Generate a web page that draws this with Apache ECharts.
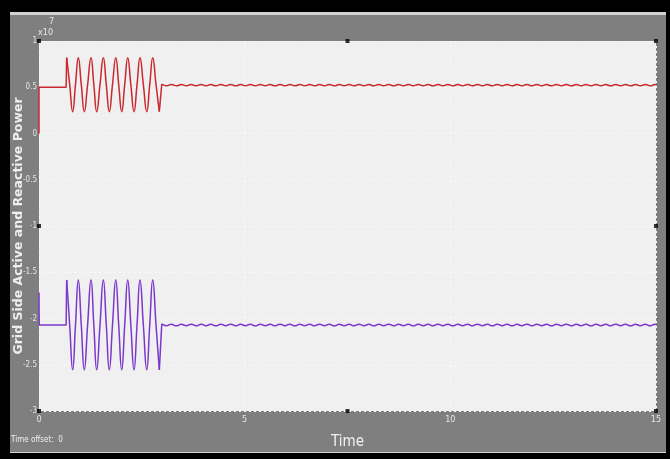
<!DOCTYPE html>
<html>
<head>
<meta charset="utf-8">
<script src="https://cdn.jsdelivr.net/npm/echarts@6/dist/echarts.min.js"></script>
<style>
html,body{margin:0;padding:0;background:#000;}
#c{width:670px;height:459px;}
</style>
</head>
<body>
<div id="c"></div>
<script>
// ---- data (values in units of 1e7) ----
const yTicks = [1, 0.5, 0, -0.5, -1, -1.5, -2, -2.5, -3];
const xTicks = [0, 5, 10, 15];

const redStep = [[0, 0], [0, 0.5], [0.66, 0.5], [0.673, 0.82]];
const redOsc = [[0.673,0.82],[0.746,0.528],[0.819,0.236],[0.887,0.528],[0.956,0.82],[1.028,0.528],[1.101,0.236],[1.182,0.528],[1.264,0.82],[1.333,0.528],[1.403,0.236],[1.483,0.528],[1.564,0.82],[1.636,0.528],[1.709,0.236],[1.787,0.528],[1.866,0.82],[1.938,0.528],[2.011,0.236],[2.084,0.528],[2.157,0.82],[2.233,0.528],[2.310,0.236],[2.383,0.528],[2.456,0.82],[2.537,0.528],[2.619,0.236],[2.692,0.528],[2.765,0.82],[2.845,0.528],[2.925,0.236]];
const redRise = [[2.925,0.236],[2.985,0.535]];

const purpleStep = [[0, -1.72], [0.005, -2.07], [0.66, -2.07], [0.673, -1.585]];
const purpleOsc = [[0.673,-1.585],[0.746,-2.07],[0.819,-2.555],[0.887,-2.07],[0.956,-1.585],[1.028,-2.07],[1.101,-2.555],[1.182,-2.07],[1.264,-1.585],[1.333,-2.07],[1.403,-2.555],[1.483,-2.07],[1.564,-1.585],[1.636,-2.07],[1.709,-2.555],[1.787,-2.07],[1.866,-1.585],[1.938,-2.07],[2.011,-2.555],[2.084,-2.07],[2.157,-1.585],[2.233,-2.07],[2.310,-2.555],[2.383,-2.07],[2.456,-1.585],[2.537,-2.07],[2.619,-2.555],[2.692,-2.07],[2.765,-1.585],[2.845,-2.07],[2.925,-2.555]];
const purpleRise = [[2.925,-2.555],[2.985,-2.058]];

const rippleTimes = [2.985,3.10,3.22,3.34,3.46,3.58,3.70,3.82,3.94,4.06,4.18,4.30,4.42,4.54,4.66,4.78,4.90,5.02,5.14,5.26,5.38,5.50,5.62,5.74,5.86,5.98,6.10,6.22,6.34,6.46,6.58,6.70,6.82,6.94,7.06,7.18,7.30,7.42,7.54,7.66,7.78,7.90,8.02,8.14,8.26,8.38,8.50,8.62,8.74,8.86,8.98,9.10,9.22,9.34,9.46,9.58,9.70,9.82,9.94,10.06,10.18,10.30,10.42,10.54,10.66,10.78,10.90,11.02,11.14,11.26,11.38,11.50,11.62,11.74,11.86,11.98,12.10,12.22,12.34,12.46,12.58,12.70,12.82,12.94,13.06,13.18,13.30,13.42,13.54,13.66,13.78,13.90,14.02,14.14,14.26,14.38,14.50,14.62,14.74,14.86,14.98,15.0];
const redRipple = [0.535,
0.516,0.530,0.515,0.529,0.516,0.531,0.515,0.530,0.516,0.529,
0.515,0.530,0.516,0.531,0.515,0.529,0.516,0.530,0.515,0.530,
0.516,0.529,0.515,0.531,0.516,0.530,0.515,0.529,0.516,0.530,
0.515,0.531,0.516,0.530,0.515,0.529,0.516,0.530,0.515,0.531,
0.516,0.529,0.515,0.530,0.516,0.531,0.515,0.529,0.516,0.530,
0.515,0.530,0.516,0.529,0.515,0.531,0.516,0.530,0.515,0.529,
0.516,0.530,0.515,0.531,0.516,0.529,0.515,0.530,0.516,0.530,
0.515,0.529,0.516,0.531,0.515,0.530,0.516,0.529,0.515,0.530,
0.516,0.531,0.515,0.529,0.516,0.530,0.515,0.530,0.516,0.529,
0.515,0.531,0.516,0.530,0.515,0.529,0.516,0.530,0.515,0.531,
0.523];
const purpleRipple = [-2.058,
-2.078,-2.062,-2.079,-2.063,-2.078,-2.061,-2.079,-2.062,-2.078,-2.063,
-2.079,-2.062,-2.078,-2.061,-2.079,-2.063,-2.078,-2.062,-2.079,-2.062,
-2.078,-2.063,-2.079,-2.061,-2.078,-2.062,-2.079,-2.063,-2.078,-2.062,
-2.079,-2.061,-2.078,-2.062,-2.079,-2.063,-2.078,-2.062,-2.079,-2.061,
-2.078,-2.063,-2.079,-2.062,-2.078,-2.061,-2.079,-2.063,-2.078,-2.062,
-2.079,-2.062,-2.078,-2.063,-2.079,-2.061,-2.078,-2.062,-2.079,-2.063,
-2.078,-2.062,-2.079,-2.061,-2.078,-2.063,-2.079,-2.062,-2.078,-2.062,
-2.079,-2.063,-2.078,-2.061,-2.079,-2.062,-2.078,-2.063,-2.079,-2.062,
-2.078,-2.061,-2.079,-2.063,-2.078,-2.062,-2.079,-2.062,-2.078,-2.063,
-2.079,-2.061,-2.078,-2.062,-2.079,-2.063,-2.078,-2.062,-2.079,-2.061,
-2.070];

// scope frame markers (decorative squares at plot edges)
const frameMarkers = [[0,1],[7.5,1],[15,1],[0,-1],[15,-1],[0,-3],[7.5,-3],[15,-3]];

const RED = '#c9282e';
const PURPLE = '#7b38cc';
const zip = (t, v) => t.map((x, i) => [x, v[i]]);

const chart = echarts.init(document.getElementById('c'), null, {renderer: 'canvas'});
const narrow = "'Liberation Sans Narrow', 'DejaVu Sans Condensed', sans-serif";
const lineBase = (data, color, smooth) => ({
  type: 'line', data, smooth, showSymbol: false, symbol: 'none', animation: false,
  lineStyle: {color, width: 1.5}, itemStyle: {color}, silent: true, z: 3
});

chart.setOption({
  backgroundColor: '#000',
  animation: false,
  graphic: [
    {type: 'rect', shape: {x: 10, y: 12, width: 656, height: 441}, style: {fill: '#d2d2d2'}, z: -10},
    {type: 'rect', shape: {x: 10, y: 15, width: 656, height: 437}, style: {fill: '#7f7f7f'}, z: -9},
    {type: 'text', left: 38, top: 28, style: {text: 'x10', fill: '#e6e6e6', font: '9px ' + narrow}},
    {type: 'text', left: 49, top: 17, style: {text: '7', fill: '#e6e6e6', font: '9px ' + narrow}},
    {type: 'text', left: 11, top: 436, style: {text: 'Time offset:  0', fill: '#eeeeee', font: '8px ' + narrow}}
  ],
  grid: {left: 39, top: 41, width: 617, height: 370, show: true, backgroundColor: '#f0f0f0', borderWidth: 0,
    containLabel: false, outerBoundsMode: 'none'},
  xAxis: {
    type: 'value', min: 0, max: 15, interval: 5,
    name: 'Time', nameLocation: 'middle', nameGap: 24, nameMoveOverlap: false,
    nameTextStyle: {color: '#f2f2f2', fontSize: 15, fontFamily: narrow},
    axisLine: {show: false}, axisTick: {show: false},
    axisLabel: {color: '#e6e6e6', fontSize: 9, fontFamily: narrow, margin: 4,
      formatter: v => xTicks.includes(v) ? String(v) : ''},
    splitLine: {show: true, lineStyle: {color: '#fbfbfb', type: [2, 3], width: 1}}
  },
  yAxis: {
    type: 'value', min: -3, max: 1, interval: 0.5,
    name: 'Grid Side Active and Reactive Power', nameLocation: 'middle', nameGap: 14, nameRotate: 90,
    nameMoveOverlap: false,
    nameTextStyle: {color: '#eeeeee', fontSize: 12.5, fontWeight: 'bold', fontFamily: "'DejaVu Sans', sans-serif"},
    axisLine: {show: false}, axisTick: {show: false},
    axisLabel: {color: '#e6e6e6', fontSize: 8, fontFamily: narrow, margin: 2,
      formatter: v => yTicks.includes(v) ? String(v) : ''},
    splitLine: {show: true, lineStyle: {color: '#fbfbfb', type: [2, 3], width: 1}}
  },
  series: [
    lineBase(redStep, RED, false),
    lineBase(redOsc, RED, true),
    lineBase(redRise, RED, false),
    lineBase(zip(rippleTimes, redRipple), RED, true),
    lineBase(purpleStep, PURPLE, false),
    lineBase(purpleOsc, PURPLE, true),
    lineBase(purpleRise, PURPLE, false),
    lineBase(zip(rippleTimes, purpleRipple), PURPLE, true),
    {type: 'scatter', data: frameMarkers, symbol: 'rect', symbolSize: 4, clip: false,
      itemStyle: {color: '#000'}, silent: true, z: 5, animation: false}
  ]
});
</script>
</body>
</html>
